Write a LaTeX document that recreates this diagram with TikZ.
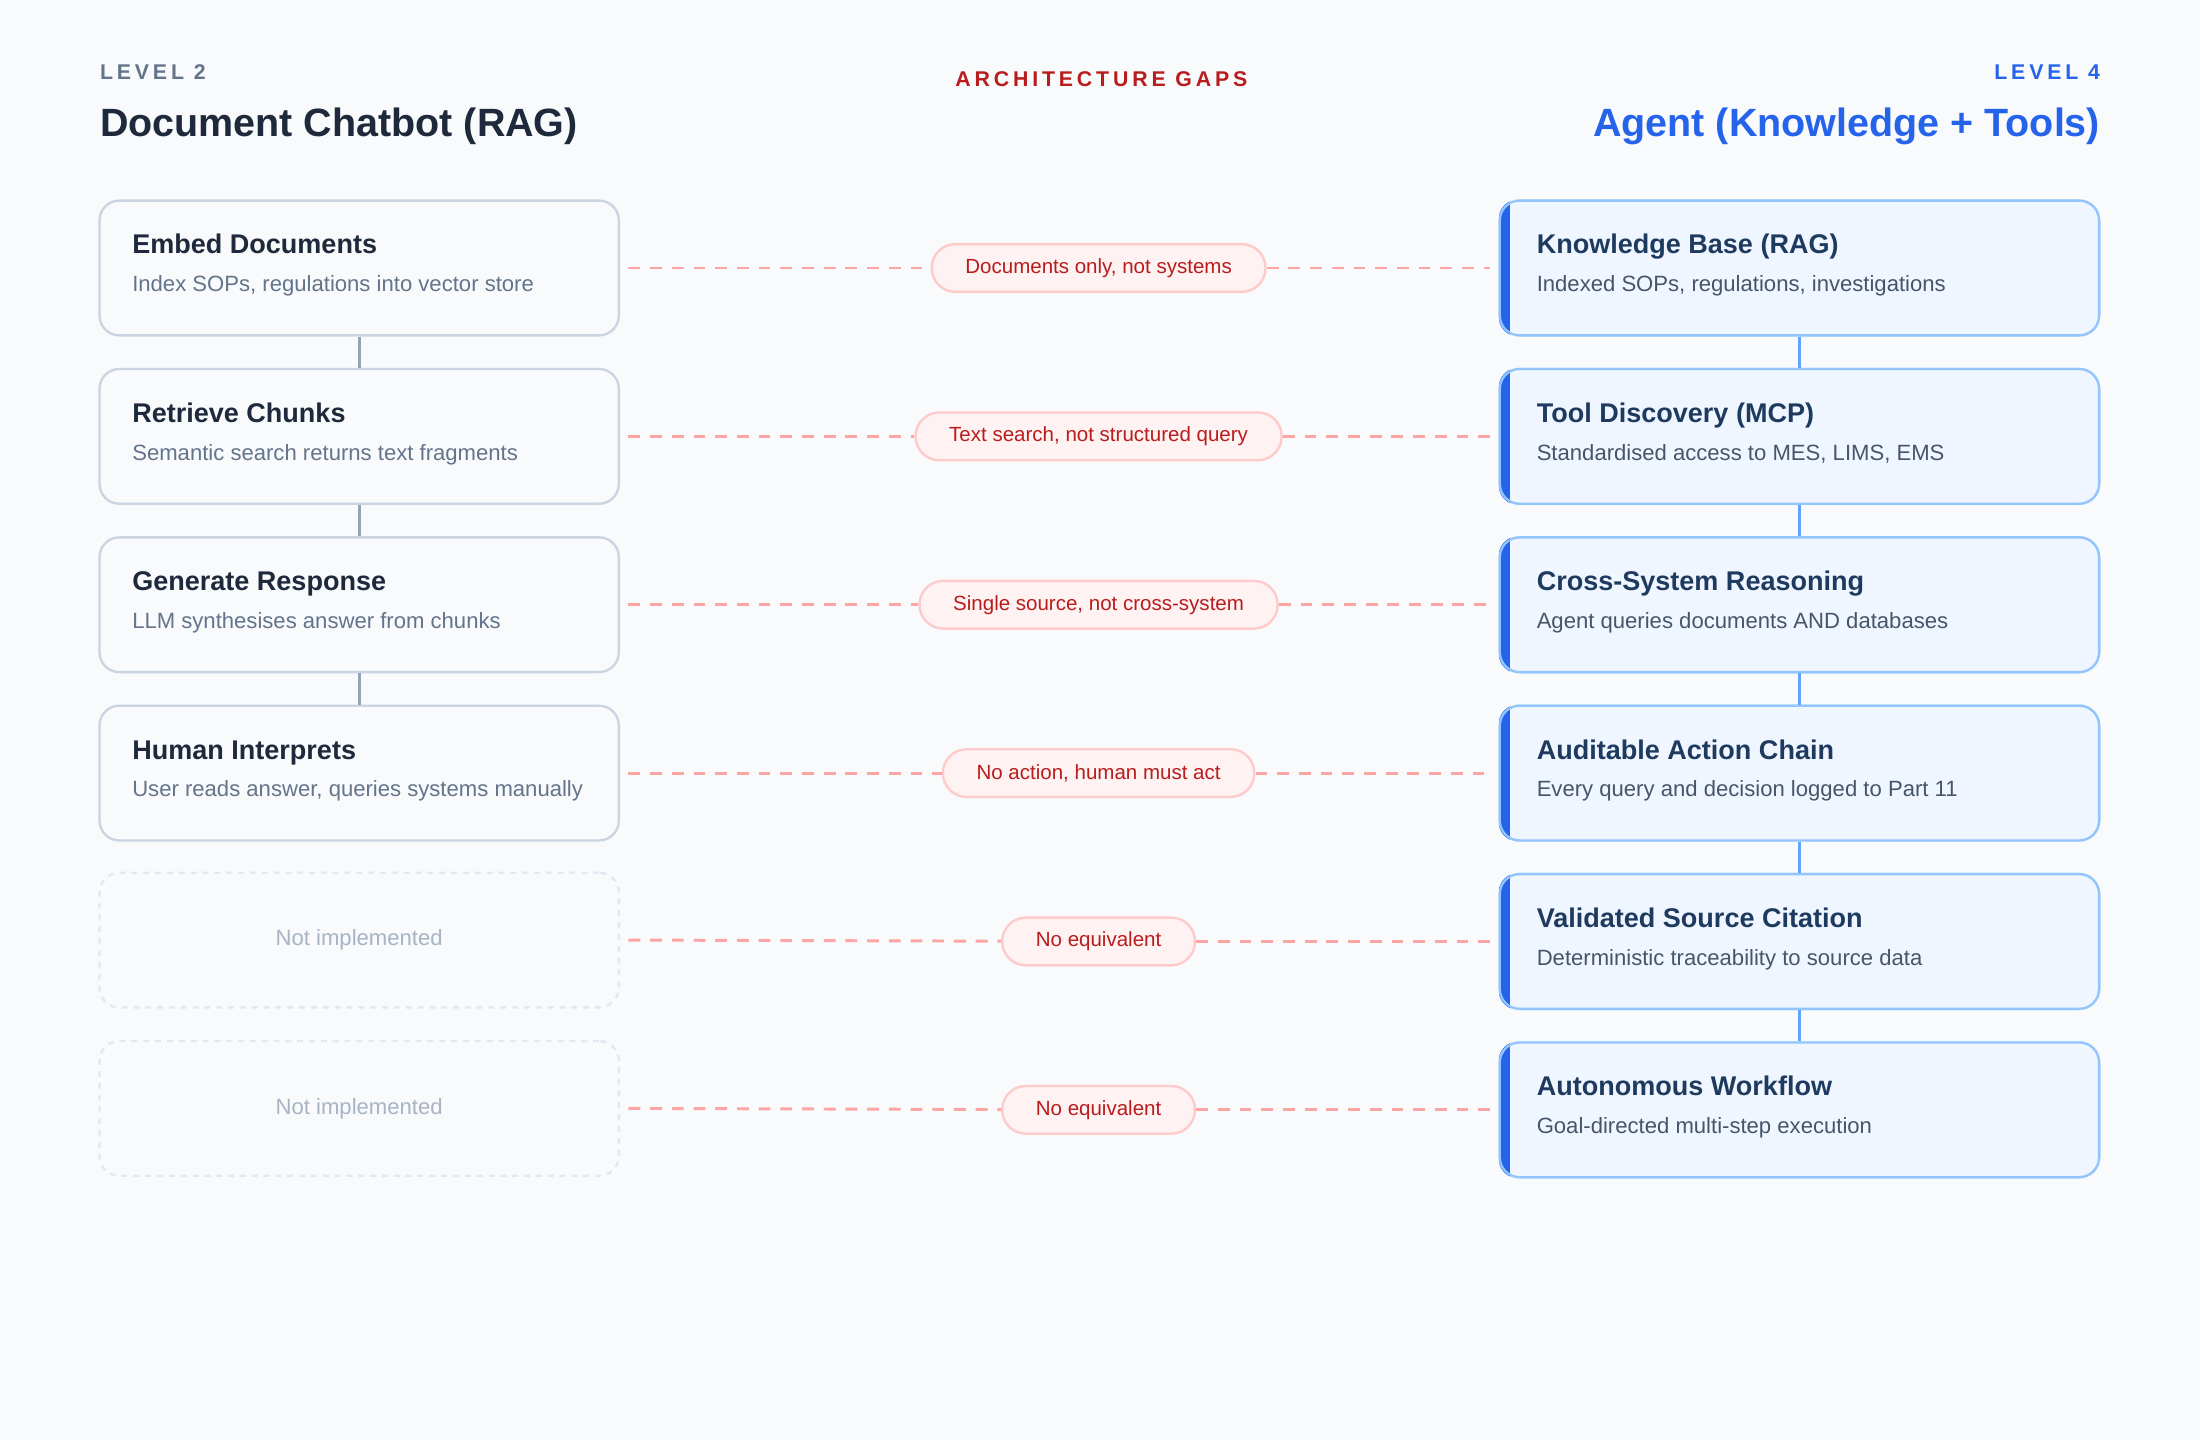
\documentclass[tikz,border=0pt]{standalone}
\usepackage{fontspec}
\setmainfont{Liberation Sans}
\usetikzlibrary{positioning}
\definecolor{bgc}{HTML}{F8FAFC}
\definecolor{ltitle}{HTML}{1E293B}
\definecolor{rtitle}{HTML}{1E3A5F}
\definecolor{lsub}{HTML}{64748B}
\definecolor{rsub}{HTML}{475569}
\definecolor{lborder}{HTML}{CBD5E1}
\definecolor{rborder}{HTML}{93C5FD}
\definecolor{rfill}{HTML}{EFF6FF}
\definecolor{accent}{HTML}{2563EB}
\definecolor{gapfill}{HTML}{FEF2F2}
\definecolor{gapdraw}{HTML}{FECACA}
\definecolor{gaptext}{HTML}{B91C1C}
\definecolor{gapdash}{HTML}{FCA5A5}
\definecolor{nonedraw}{HTML}{E2E8F0}
\definecolor{nonetext}{HTML}{A8B4C4}
\definecolor{lconn}{HTML}{94A3B8}
\definecolor{rconn}{HTML}{60A5FA}
\tikzset{
	lbox/.style={draw=lborder,fill=bgc,line width=1.2pt,rounded corners=10pt,
		minimum width=9.25cm,minimum height=2.4cm,inner sep=0pt},
	nbox/.style={lbox,draw=nonedraw,dashed,font=\fontsize{11.2}{14}\selectfont,text=nonetext},
	rbox/.style={draw=rborder,line width=1.2pt,rounded corners=10pt,
		minimum width=10.675cm,minimum height=2.4cm,inner sep=0pt},
	ttl/.style={anchor=base west,font=\bfseries\fontsize{13.7}{16}\selectfont,inner sep=0pt},
	sub/.style={anchor=base west,font=\fontsize{11.2}{14}\selectfont,inner sep=0pt},
	gap/.style={draw=gapdraw,fill=gapfill,line width=1.2pt,rounded corners=12pt,
		text=gaptext,font=\fontsize{10.4}{13}\selectfont,minimum height=0.85cm,inner xsep=0.6cm},
	gaplink/.style={draw=gapdash,line width=1.5pt,dash pattern=on 6pt off 5pt},
	spaced/.style={inner sep=0pt,font=\bfseries\fontsize{10.8}{13}\selectfont\addfontfeatures{LetterSpace=18}}
}
\begin{document}
\begin{tikzpicture}[x=0.025cm,y=-0.025cm]
	\fill[bgc] (0,0) rectangle (1568,1026);
	\useasboundingbox (0,0) rectangle (1568,1026);

	% headers
	\node[spaced,anchor=base west,text=lsub] (lvl2) at (71,57) {LEVEL 2};
	\node[anchor=base west,inner sep=0pt,text=ltitle,font=\bfseries\fontsize{20}{24}\selectfont] (lhead) at (71,97) {Document Chatbot (RAG)};
	\node[spaced,anchor=base,text=gaptext] (gaps) at (785,62) {ARCHITECTURE GAPS};
	\node[spaced,anchor=base east,text=accent] (lvl4) at (1497,57) {LEVEL 4};
	\node[anchor=base east,inner sep=0pt,text=accent,font=\bfseries\fontsize{20}{24}\selectfont] (rhead) at (1497,97) {Agent (Knowledge + Tools)};

	% left column
	\foreach \i/\t/\s in {1/Embed Documents/{Index SOPs, regulations into vector store},
		2/Retrieve Chunks/Semantic search returns text fragments,
		3/Generate Response/LLM synthesises answer from chunks,
		4/Human Interprets/{User reads answer, queries systems manually}} {
		\node[lbox] (l\i) at (256,71+120*\i) {};
		\node[ttl,text=ltitle] at (94,61+120*\i) {\t};
		\node[sub,text=lsub] at (94,88+120*\i) {\s};
	}
	\node[nbox] (l5) at (256,670) {Not implemented};
	\node[nbox] (l6) at (256,790) {Not implemented};

	% right column
	\foreach \i/\t/\s in {1/Knowledge Base (RAG)/{Indexed SOPs, regulations, investigations},
		2/Tool Discovery (MCP)/{Standardised access to MES, LIMS, EMS},
		3/Cross-System Reasoning/Agent queries documents AND databases,
		4/Auditable Action Chain/Every query and decision logged to Part 11,
		5/Validated Source Citation/Deterministic traceability to source data,
		6/Autonomous Workflow/Goal-directed multi-step execution} {
		\node[rbox] (r\i) at (1282.5,71+120*\i) {};
		\begin{scope}
			\clip[rounded corners=10pt] (r\i.south west) rectangle (r\i.north east);
			\fill[rfill] (r\i.south west) rectangle (r\i.north east);
			\fill[accent] (r\i.south west) rectangle ([xshift=0.2cm]r\i.north west);
		\end{scope}
		\node[rbox] at (r\i) {};
		\node[ttl,text=rtitle] at (1095,61+120*\i) {\t};
		\node[sub,text=rsub] at (1095,88+120*\i) {\s};
	}

	% vertical links
	\foreach \i/\j in {1/2,2/3,3/4} \draw[lconn,line width=1.5pt] (l\i) -- (l\j);
	\foreach \i/\j in {1/2,2/3,3/4,4/5,5/6} \draw[rconn,line width=1.5pt] (r\i) -- (r\j);

	% gaps
	\foreach \i/\g in {1/{Documents only, not systems},2/{Text search, not structured query},
		3/{Single source, not cross-system},4/{No action, human must act},
		5/No equivalent,6/No equivalent} {
		\node[gap] (g\i) at (783,71+120*\i) {\g};
		\draw[gaplink] ([xshift=0.15cm]l\i.east) -- (g\i);
		\draw[gaplink] (g\i) -- ([xshift=-0.15cm]r\i.west);
	}
\end{tikzpicture}
\end{document}
